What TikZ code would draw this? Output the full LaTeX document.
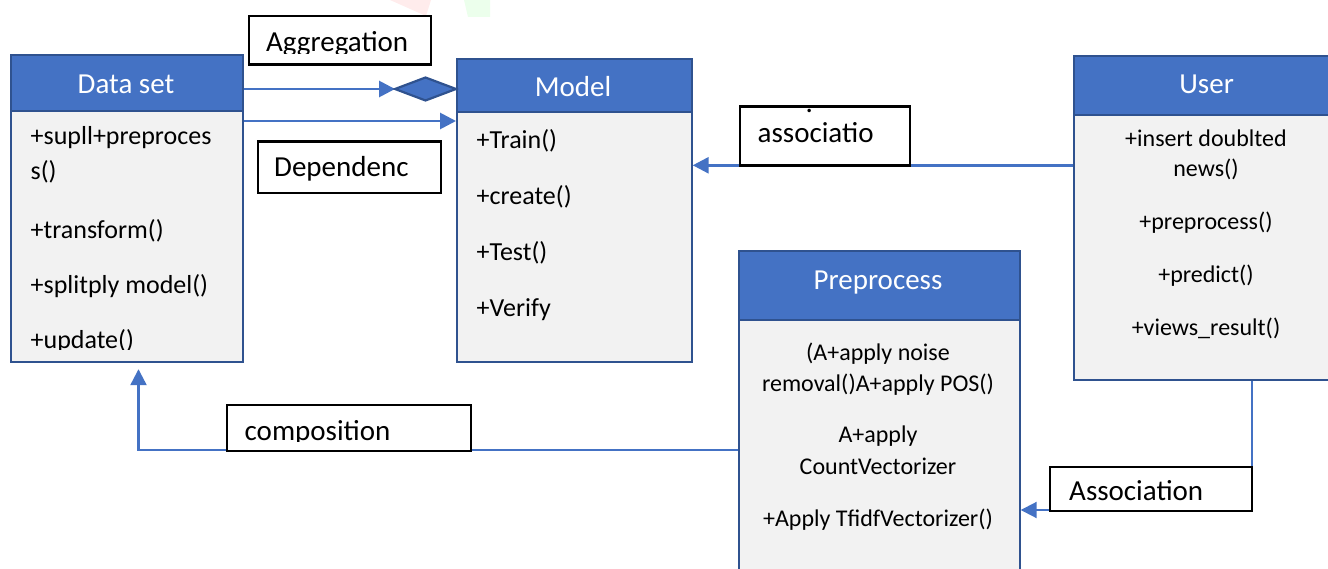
\documentclass[tikz,border=0pt]{standalone}
\usepackage{fontspec}
\setmainfont{Carlito}
\usetikzlibrary{arrows.meta}

\definecolor{hdrblue}{HTML}{4472C4}
\definecolor{edgeblue}{HTML}{2F528F}
\definecolor{bodygrey}{HTML}{F2F2F2}
\definecolor{linkblue}{HTML}{4472C4}

\begin{document}
\begin{tikzpicture}[x=1pt,y=-1pt,
  classhead/.style={draw=edgeblue, fill=hdrblue, line width=2.2pt, inner sep=0pt, anchor=north west},
  classbody/.style={draw=edgeblue, fill=bodygrey, line width=2.2pt, inner sep=0pt, anchor=north west},
  headtext/.style={text=white, inner sep=0pt, anchor=base, font=\fontsize{29}{32}\selectfont},
  bodytext/.style={inner sep=0pt, anchor=base west, font=\fontsize{26}{30}\selectfont},
  ctrtext/.style={inner sep=0pt, anchor=base, font=\fontsize{24}{28}\selectfont},
  lblbox/.style={draw=black, fill=white, line width=2.2pt, inner sep=0pt, anchor=north west},
  lbltext/.style={inner sep=0pt, anchor=base west, font=\fontsize{29}{32}\selectfont},
  link/.style={draw=linkblue, line width=2.8pt},
  tip/.style={-{Triangle[length=16pt,width=16pt]}}
]
\useasboundingbox (0,0) rectangle (1328,569);
\clip (0,0) rectangle (1328,569);
\fill[white] (0,0) rectangle (1328,569);

% faint marks along the top edge
\fill[red!60!white, opacity=0.12] (390,0) -- (431,0) -- (426,16) -- cycle;
\fill[green!60!white, opacity=0.12] (464,0) -- (490,0) -- (490,17) -- (468,17) -- cycle;

% ---------- Data set ----------
\node[classhead, minimum width=232pt, minimum height=56pt] (ds-head) at (10,54) {};
\node[classbody, minimum width=232pt, minimum height=251pt] (ds-body) at (10,110) {};
\node[headtext] (ds-title) at (126,94) {Data set};
\node[bodytext] (ds-m1) at (30.5,145) {+supll+preproces};
\node[bodytext] (ds-m1b) at (30.5,180) {s()};
\node[bodytext] (ds-m2) at (30.5,238.3) {+transform()};
\node[bodytext] (ds-m3) at (30.5,293.3) {+splitply model()};
\begin{scope}
  \clip (12,300) rectangle (240,349);
  \node[bodytext] (ds-m4) at (30.5,348.3) {+update()};
\end{scope}

% ---------- Model ----------
\node[classhead, minimum width=234.5pt, minimum height=52.4pt] (md-head) at (456,58.3) {};
\node[classbody, minimum width=234.5pt, minimum height=250pt] (md-body) at (456,110.7) {};
\node[headtext] (md-title) at (573,96.7) {Model};
\node[bodytext] (md-m1) at (476.5,148.3) {+Train()};
\node[bodytext] (md-m2) at (476.5,205) {+create()};
\node[bodytext] (md-m3) at (476.5,260.7) {+Test()};
\node[bodytext] (md-m4) at (476.5,316.7) {+Verify};

% ---------- User ----------
\node[classhead, minimum width=268.5pt, minimum height=59.3pt] (us-head) at (1072.5,54.7) {};
\node[classbody, minimum width=268.5pt, minimum height=265pt] (us-body) at (1072.5,114) {};
\node[headtext] (us-title) at (1206.6,94) {User};
\node[ctrtext] (us-m1) at (1206,147) {+insert doublted};
\node[ctrtext] (us-m1b) at (1206,177) {news()};
\node[ctrtext] (us-m2) at (1206,230) {+preprocess()};
\node[ctrtext] (us-m3) at (1206,283) {+predict()};
\node[ctrtext] (us-m4) at (1206,335) {+views\_result()};

% ---------- Preprocess ----------
\node[classhead, minimum width=280.5pt, minimum height=69pt] (pp-head) at (738,250) {};
\node[classbody, minimum width=280.5pt, minimum height=290pt] (pp-body) at (738,319) {};
\node[headtext] (pp-title) at (878,290) {Preprocess};
\node[ctrtext] (pp-m1) at (878,360) {(A+apply noise};
\node[ctrtext] (pp-m1b) at (878,391.7) {removal()A+apply POS()};
\node[ctrtext] (pp-m2) at (878,442.7) {A+apply};
\node[ctrtext] (pp-m2b) at (878,474) {CountVectorizer};
\node[ctrtext] (pp-m3) at (878,526.7) {+Apply TfidfVectorizer()};

% ---------- connectors ----------
\coordinate (agg-w) at (395,89);
\coordinate (dep-y) at (0,121);
\coordinate (asc-y) at (0,165.3);
\coordinate (comp-bend) at (138.5,450);
\coordinate (ua-bend) at (1251.5,510);

% aggregation: arrow ending at a filled diamond on Model
\draw[link, tip] (ds-head.east |- agg-w) -- (agg-w);
\draw[draw=edgeblue, fill=hdrblue, line width=2.2pt]
  (agg-w) -- (425.5,77.5) -- (md-head.west |- agg-w) -- (425.5,100.5) -- cycle;

% dependency
\draw[link, tip] (ds-body.east |- dep-y) -- (md-body.west |- dep-y);

% association from User to Model
\draw[link, tip] (us-body.west |- asc-y) -- (md-body.east |- asc-y);

% composition from Preprocess to Data set
\draw[link, line width=2.3pt, tip, shorten >=6pt]
  (pp-body.west |- comp-bend) -- (comp-bend) -- (comp-bend |- ds-body.south);

% association from User down to Preprocess
\draw[link, line width=2pt, tip]
  (us-body.south -| ua-bend) -- (ua-bend) -- (pp-body.east |- ua-bend);

% ---------- relation labels ----------
\node[lblbox, minimum width=182pt, minimum height=48.5pt] (agg-lbl) at (247.5,15) {};
\begin{scope}
  \clip (248,16) rectangle (429,53.5);
  \node[lbltext] (agg-txt) at (266,52) {Aggregation};
\end{scope}

\node[lblbox, minimum width=183pt, minimum height=51.5pt] (dep-lbl) at (256.5,140.5) {};
\node[lbltext] (dep-txt) at (274,176.7) {Dependenc};

\node[lblbox, minimum width=170pt, minimum height=59pt] (asc-lbl) at (738.5,105.5) {};
\node[lbltext] (asc-dot) at (805.5,113) {.};
\node[lbltext] (asc-txt) at (757.5,143) {associatio};

\node[lblbox, minimum width=244pt, minimum height=46pt] (comp-lbl) at (225.5,403.5) {};
\begin{scope}
  \clip (226,404) rectangle (469,441);
  \node[lbltext] (comp-txt) at (244.5,440) {composition};
\end{scope}

\node[lblbox, minimum width=202pt, minimum height=44pt] (assoc-lbl) at (1048.5,465.5) {};
\begin{scope}
  \clip (1049,466) rectangle (1250,501);
  \node[lbltext] (assoc-txt) at (1069,500.3) {Association};
\end{scope}

\end{tikzpicture}
\end{document}
